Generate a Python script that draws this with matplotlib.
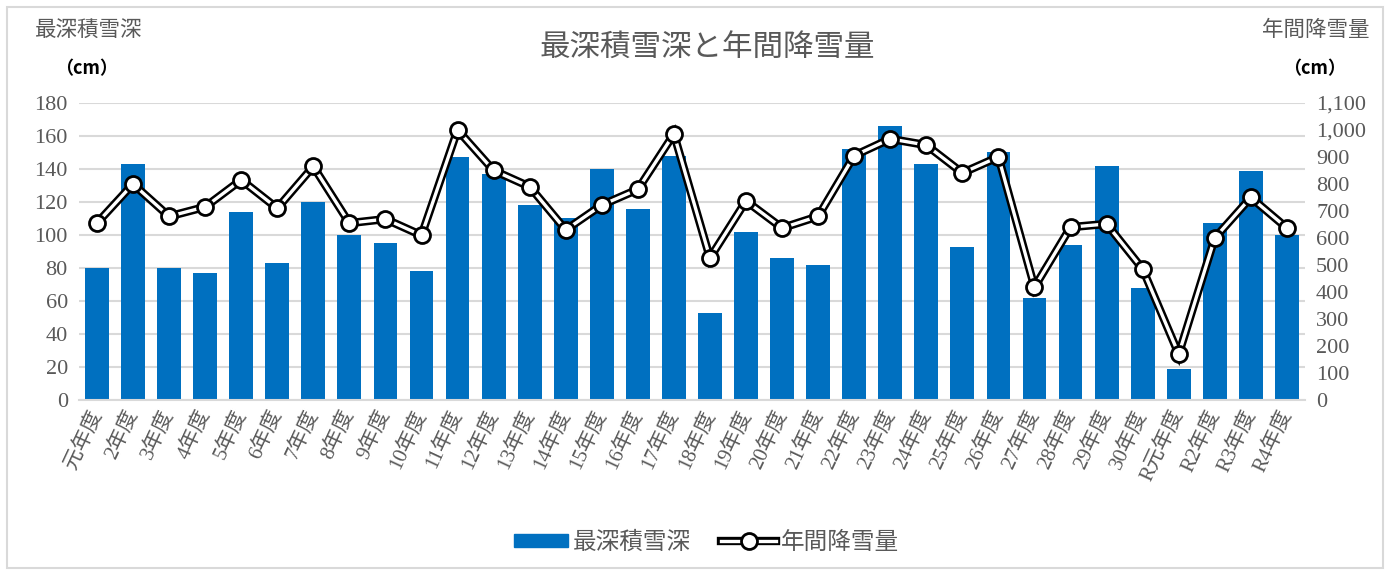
import matplotlib
matplotlib.use("Agg")
import matplotlib.pyplot as plt
from matplotlib.lines import Line2D
from matplotlib.patches import Rectangle, Patch
from matplotlib.ticker import FuncFormatter

years = ["元年度", "2年度", "3年度", "4年度", "5年度", "6年度", "7年度", "8年度",
         "9年度", "10年度", "11年度", "12年度", "13年度", "14年度", "15年度",
         "16年度", "17年度", "18年度", "19年度", "20年度", "21年度", "22年度",
         "23年度", "24年度", "25年度", "26年度", "27年度", "28年度", "29年度",
         "30年度", "R元年度", "R2年度", "R3年度", "R4年度"]
max_depth = [80, 143, 80, 77, 114, 83, 120, 100, 95, 78, 147, 137, 118, 110,
             140, 116, 148, 53, 102, 86, 82, 152, 166, 143, 93, 150, 62, 94,
             142, 68, 19, 107, 139, 100]
annual_snow = [655, 800, 680, 715, 815, 710, 865, 655, 670, 610, 1000, 850,
               790, 630, 722, 780, 985, 526, 737, 637, 680, 905, 967, 944,
               841, 900, 418, 640, 652, 485, 170, 600, 750, 637]

GRAY = "#595959"
BLUE = "#0070C0"
serif = ["Liberation Serif", "Noto Sans CJK JP"]
sans = ["Noto Sans CJK JP", "DejaVu Sans"]

fig = plt.figure(figsize=(13.9, 5.72), dpi=100)
ax = fig.add_axes([0.0568, 0.3007, 0.8820, 0.5193])
x = list(range(len(years)))

ax.bar(x, max_depth, width=0.66, color=BLUE, zorder=2)
ax.set_xlim(-0.5, len(years) - 0.5)
ax.set_ylim(0, 180)
ax.set_yticks(range(0, 181, 20))
ax.grid(axis="y", color="#d9d9d9", lw=1.5, zorder=0)
ax.set_axisbelow(True)
for s in ["top", "right", "left"]:
    ax.spines[s].set_visible(False)
ax.spines["bottom"].set_color("#d9d9d9")
ax.spines["bottom"].set_linewidth(1.5)
ax.tick_params(length=0, colors=GRAY, labelsize=16, pad=8)
ax.set_xticks(x)
ax.set_xticklabels(years, rotation=65, ha="right", va="center",
                   rotation_mode="anchor", fontsize=15, color=GRAY, family=serif)
for lab in ax.get_yticklabels():
    lab.set_family(serif)

ax2 = ax.twinx()
ax2.set_ylim(0, 1100)
ax2.set_yticks(range(0, 1101, 100))
ax2.yaxis.set_major_formatter(FuncFormatter(lambda v, p: f"{int(v):,}"))
for s in ["top", "right", "left", "bottom"]:
    ax2.spines[s].set_visible(False)
ax2.tick_params(length=0, colors=GRAY, labelsize=16, pad=8)
for lab in ax2.get_yticklabels():
    lab.set_family(serif)

ax2.plot(x, annual_snow, color="black", lw=6, solid_joinstyle="miter", zorder=3)
ax2.plot(x, annual_snow, color="white", lw=2.4, marker="o", markersize=11.5,
         markerfacecolor="white", markeredgecolor="black", markeredgewidth=2, zorder=4)

fig.text(0.509, 0.915, "最深積雪深と年間降雪量", ha="center", va="center",
         fontsize=22, color=GRAY, family=sans)
fig.text(0.025, 0.948, "最深積雪深", ha="left", va="center", fontsize=15.5,
         color=GRAY, family=sans)
fig.text(0.985, 0.948, "年間降雪量", ha="right", va="center", fontsize=15.5,
         color=GRAY, family=sans)
fig.text(0.062, 0.88, "（cm）", ha="center", va="center", fontsize=13,
         color="black", fontweight="bold", family=sans)
fig.text(0.946, 0.88, "（cm）", ha="center", va="center", fontsize=13,
         color="black", fontweight="bold", family=sans)

h_bar = Patch(color=BLUE)
h_line = (Line2D([], [], color="black", lw=6),
          Line2D([], [], color="white", lw=2.4, marker="o", markersize=11.5,
                 markerfacecolor="white", markeredgecolor="black", markeredgewidth=2))
leg = fig.legend([h_bar, h_line], ["最深積雪深", "年間降雪量"], loc="center",
                 bbox_to_anchor=(0.508, 0.052), ncol=2, frameon=False,
                 prop={"family": sans, "size": 17}, handlelength=2.3,
                 handleheight=0.5, handletextpad=0.2, columnspacing=1.3)
for t in leg.get_texts():
    t.set_color(GRAY)

fig.patches.append(Rectangle((7 / 1390, 4 / 572), 1 - 14 / 1390, 1 - 11 / 572,
                             transform=fig.transFigure, fill=False,
                             edgecolor="#d9d9d9", lw=1.5))

fig.savefig("out.png", dpi=100)
